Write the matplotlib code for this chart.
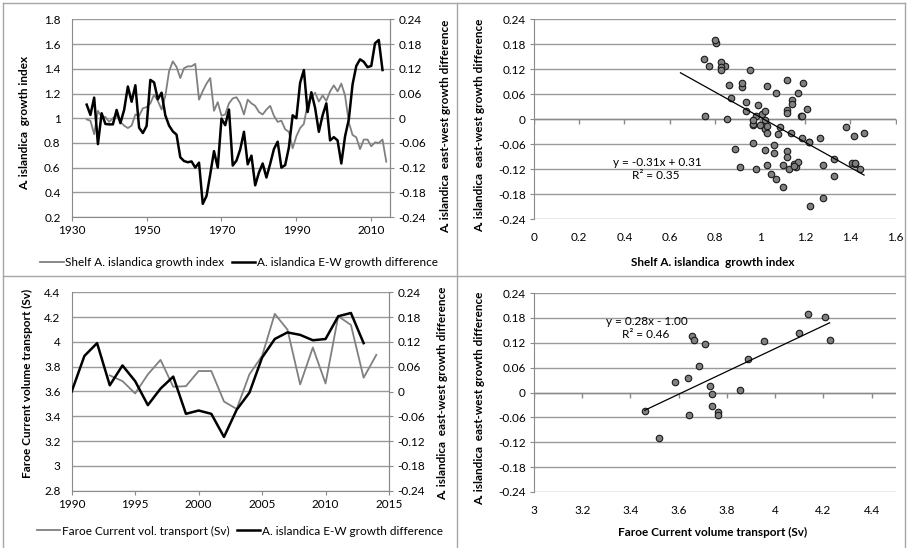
import numpy as np
import matplotlib
matplotlib.use("Agg")
import matplotlib.pyplot as plt
from matplotlib.lines import Line2D
from matplotlib.ticker import FuncFormatter, MultipleLocator

plt.rcParams['font.family'] = ['Lato', 'DejaVu Sans']

# ---------------- data ----------------
growth_years = list(range(1934, 2015))
growth_index = [0.99, 0.98, 0.87, 1.06, 1.01, 1.01, 0.97, 1.00, 1.02, 0.97,
                0.94, 0.92, 0.94, 1.03, 1.02, 1.08, 1.09, 1.12, 1.19, 1.14,
                1.07, 1.18, 1.38, 1.46, 1.415, 1.325, 1.405, 1.42, 1.42, 1.44,
                1.15, 1.22, 1.28, 1.325, 1.06, 1.13, 1.02, 1.03, 1.12, 1.16,
                1.17, 1.12, 1.03, 1.15, 1.12, 1.10, 1.05, 1.03, 1.07, 1.10,
                1.02, 0.97, 0.98, 0.91, 0.89, 0.756, 0.854, 0.92, 0.954, 1.117,
                1.17, 1.206, 1.135, 1.184, 1.14, 1.217, 1.266, 1.217, 1.28, 1.184,
                0.967, 0.864, 0.845, 0.75, 0.827, 0.827, 0.772, 0.805, 0.80, 0.827,
                0.648]

ew_years = list(range(1934, 2014))
ew_diff = [0.033, 0.008, 0.050, -0.063, 0.012, -0.014, -0.015, -0.015, 0.020, -0.012,
           0.020, 0.077, 0.040, 0.080, -0.023, -0.036, -0.019, 0.093, 0.087, 0.046,
           0.062, 0.007, -0.018, -0.032, -0.040, -0.095, -0.104, -0.107, -0.105, -0.120,
           -0.108, -0.208, -0.189, -0.136, -0.080, -0.120, -0.001, -0.017, 0.021, -0.115,
           -0.103, -0.076, -0.033, -0.112, -0.091, -0.163, -0.132, -0.110, -0.144, -0.111,
           -0.075, -0.057, -0.120, -0.114, -0.071, 0.007, 0.000, 0.086, 0.117, 0.015,
           0.063, 0.025, -0.033, 0.007, 0.036, -0.054, -0.046, -0.054, -0.110, -0.044,
           -0.003, 0.082, 0.127, 0.143, 0.137, 0.124, 0.127, 0.182, 0.190, 0.117]

fc_years = list(range(1993, 2015))
fc_transport = [3.73, 3.684, 3.584, 3.738, 3.855, 3.638, 3.643, 3.765, 3.765, 3.519,
                3.459, 3.738, 3.887, 4.226, 4.099, 3.657, 3.955, 3.665, 4.207, 4.137,
                3.711, 3.895]

ts1_xticks = [1930, 1950, 1970, 1990, 2010]
ts2_xticks = [1990, 1995, 2000, 2005, 2010, 2015]

eq1_text = ["y = -0.31x + 0.31", "R\u00b2 = 0.35"]
eq2_text = ["y = 0.28x - 1.00", "R\u00b2 = 0.46"]

# paired data for the scatter plots
gmap = dict(zip(growth_years, growth_index))
emap = dict(zip(ew_years, ew_diff))
fmap = dict(zip(fc_years, fc_transport))
sc1_x = [gmap[y] for y in ew_years if y in gmap]
sc1_y = [emap[y] for y in ew_years if y in gmap]
sc2_x = [fmap[y] for y in ew_years if y in fmap]
sc2_y = [emap[y] for y in ew_years if y in fmap]

# ---------------- style ----------------
W, H = 907, 548
fig = plt.figure(figsize=(W / 100, H / 100), dpi=100)

def rect(l, t, r, b):
    return [l / W, 1 - b / H, (r - l) / W, (b - t) / H]

GRID = '#9a9a9a'
AXC = '#8a8a8a'
GRAY = '#808080'
FS = 8.5
LFS = 8.5
fmt = FuncFormatter(lambda v, p: f'{round(v, 6) + 0:g}')


def style_ts(ax, ax2):
    ax.grid(axis='y', color=GRID, lw=1)
    ax.set_axisbelow(True)
    ax.spines['top'].set_visible(False)
    ax2.spines['top'].set_visible(False)
    ax2.spines['left'].set_visible(False)
    ax2.spines['bottom'].set_visible(False)
    for sp in (ax.spines['left'], ax.spines['bottom'], ax.spines['right'], ax2.spines['right']):
        sp.set_color(AXC)
    ax.tick_params(axis='y', length=0, labelsize=FS, pad=8)
    ax.tick_params(axis='x', direction='out', length=3, color=AXC, labelsize=FS, pad=3)
    ax2.tick_params(axis='y', direction='out', length=3, color=AXC, labelsize=FS, pad=3)
    ax.yaxis.set_major_formatter(fmt)
    ax2.yaxis.set_major_formatter(fmt)


def style_sc(ax):
    ax.grid(axis='y', color=GRID, lw=1)
    ax.set_axisbelow(True)
    for s in ('top', 'right', 'bottom'):
        ax.spines[s].set_visible(False)
    ax.spines['left'].set_color(AXC)
    ax.tick_params(axis='y', direction='out', length=3, color=AXC, labelsize=FS, pad=3)
    ax.tick_params(axis='x', length=0, labelsize=FS, pad=9)
    ax.xaxis.set_major_formatter(fmt)
    ax.yaxis.set_major_formatter(fmt)
    ax.axhline(0, color=AXC, lw=1, zorder=1)
    xt = [t for t in ax.get_xticks() if ax.get_xlim()[0] <= t <= ax.get_xlim()[1]]
    ax.plot(xt, np.zeros(len(xt)), ls='none', marker=3, ms=3.5, mew=1, color=AXC, zorder=1)


# ---------------- top-left ----------------
ax1 = fig.add_axes(rect(71.7, 19.4, 390, 217))
ax1b = ax1.twinx()
ax1.plot(growth_years, growth_index, color=GRAY, lw=1.3)
ax1b.plot(ew_years, ew_diff, color='black', lw=1.8)
ax1.set_xlim(1930, 2015)
ax1.set_ylim(0.2, 1.8)
ax1.yaxis.set_major_locator(MultipleLocator(0.2))
ax1.set_xticks(ts1_xticks)
ax1b.set_ylim(-0.24, 0.24)
ax1b.yaxis.set_major_locator(MultipleLocator(0.06))
style_ts(ax1, ax1b)
ax1.set_ylabel('A. islandica  growth index', fontsize=LFS, fontweight='bold')
ax1.yaxis.set_label_coords(-0.131, 0.476)
ax1b.set_ylabel('A. islandica  east-west growth difference', fontsize=LFS, fontweight='bold')
ax1b.yaxis.set_label_coords(1.157, 0.46)

# ---------------- top-right ----------------
ax2 = fig.add_axes(rect(534, 19, 895.7, 219.3))
ax2.set_xlim(0, 1.6)
ax2.set_ylim(-0.24, 0.24)
ax2.xaxis.set_major_locator(MultipleLocator(0.2))
ax2.yaxis.set_major_locator(MultipleLocator(0.06))
style_sc(ax2)
ax2.scatter(sc1_x, sc1_y, s=22, facecolor=GRAY, edgecolor='#1a1a1a', linewidths=0.8, zorder=3)
c1 = np.polyfit(sc1_x, sc1_y, 1)
lx1 = np.array([min(growth_index), max(growth_index)])
ax2.plot(lx1, np.polyval(c1, lx1), color='black', lw=0.9, zorder=4)
ax2.text(0.545, -0.103, eq1_text[0], fontsize=FS, ha='center', va='center')
ax2.text(0.54, -0.134, eq1_text[1], fontsize=FS, ha='center', va='center')
ax2.set_ylabel('A. islandica  east-west growth difference', fontsize=LFS, fontweight='bold')
ax2.yaxis.set_label_coords(-0.135, 0.47)
ax2.set_xlabel('Shelf A. islandica  growth index', fontsize=LFS, fontweight='bold')
ax2.xaxis.set_label_coords(0.495, -0.188)

# ---------------- bottom-left ----------------
ax3 = fig.add_axes(rect(71.7, 292.3, 389, 490.7))
ax3b = ax3.twinx()
ax3.plot(fc_years, fc_transport, color=GRAY, lw=1.3)
ew_sub_y = [y for y in ew_years if y >= 1990]
ew_sub_v = [emap[y] for y in ew_sub_y]
ax3b.plot(ew_sub_y, ew_sub_v, color='black', lw=1.8)
ax3.set_xlim(1990, 2015)
ax3.set_ylim(2.8, 4.4)
ax3.yaxis.set_major_locator(MultipleLocator(0.2))
ax3.set_xticks(ts2_xticks)
ax3b.set_ylim(-0.24, 0.24)
ax3b.yaxis.set_major_locator(MultipleLocator(0.06))
style_ts(ax3, ax3b)
ax3.set_ylabel('Faroe Current volume transport (Sv)', fontsize=LFS, fontweight='bold')
ax3.yaxis.set_label_coords(-0.122, 0.54)
ax3b.set_ylabel('A. islandica  east-west growth difference', fontsize=LFS, fontweight='bold')
ax3b.yaxis.set_label_coords(1.151, 0.49)

# ---------------- bottom-right ----------------
ax4 = fig.add_axes(rect(534, 293, 895.7, 492))
ax4.set_xlim(3, 4.5)
ax4.set_ylim(-0.24, 0.24)
ax4.set_xticks(np.arange(3, 4.41, 0.2))
ax4.yaxis.set_major_locator(MultipleLocator(0.06))
style_sc(ax4)
ax4.scatter(sc2_x, sc2_y, s=22, facecolor=GRAY, edgecolor='#1a1a1a', linewidths=0.8, zorder=3)
c2 = np.polyfit(sc2_x, sc2_y, 1)
lx2 = np.array([min(sc2_x), max(sc2_x)])
ax4.plot(lx2, np.polyval(c2, lx2), color='black', lw=0.9, zorder=4)
ax4.text(3.47, 0.172, eq2_text[0], fontsize=FS, ha='center', va='center')
ax4.text(3.465, 0.141, eq2_text[1], fontsize=FS, ha='center', va='center')
ax4.set_ylabel('A. islandica  east-west growth difference', fontsize=LFS, fontweight='bold')
ax4.yaxis.set_label_coords(-0.135, 0.47)
ax4.set_xlabel('Faroe Current volume transport (Sv)', fontsize=LFS, fontweight='bold')
ax4.xaxis.set_label_coords(0.495, -0.176)

# ---------------- legends ----------------
h_gray = Line2D([], [], color=GRAY, lw=1.3)
h_black = Line2D([], [], color='black', lw=1.8)
fig.legend([h_gray, h_black], ['Shelf A. islandica growth index', 'A. islandica E-W growth difference'],
           loc='center', bbox_to_anchor=(239 / W, 1 - 263 / H), ncol=2, frameon=False,
           fontsize=LFS, handlelength=2.0, handletextpad=0.15, columnspacing=0.6)
fig.legend([h_gray, h_black], ['Faroe Current vol. transport (Sv)', 'A. islandica E-W growth difference'],
           loc='center', bbox_to_anchor=(240 / W, 1 - 531 / H), ncol=2, frameon=False,
           fontsize=LFS, handlelength=2.0, handletextpad=0.15, columnspacing=0.6)

# ---------------- panel frames ----------------
FR = '#a6a6a6'
def fline(x0, y0, x1, y1):
    fig.add_artist(Line2D([x0 / W, x1 / W], [1 - y0 / H, 1 - y1 / H], color=FR, lw=1))

fline(3, 3, 905, 3)
fline(3, 3, 3, 548)
fline(905, 3, 905, 548)
fline(457, 3, 457, 548)
fline(3, 276, 905, 276)

fig.savefig('out.png', dpi=100)
